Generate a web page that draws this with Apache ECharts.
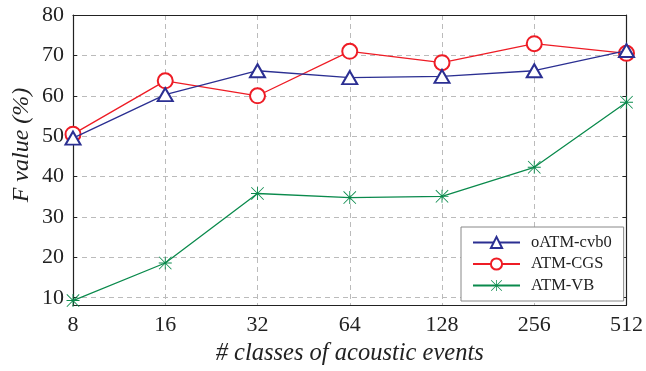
<!DOCTYPE html>
<html><head><meta charset="utf-8">
<script src="https://cdn.jsdelivr.net/npm/echarts@6/dist/echarts.min.js"></script>
<style>html,body{margin:0;padding:0;background:#fff}#c{width:646px;height:371px}</style>
</head><body><div id="c"></div>
<script>
var categories = ['8','16','32','64','128','256','512'];
var oATM_cvb0 = [49.5, 60.3, 66.2, 64.5, 64.8, 66.2, 71.2];
var ATM_CGS = [50.5, 63.7, 60.0, 71.0, 68.2, 72.9, 70.5];
var ATM_VB = [9.3, 18.6, 35.8, 34.8, 35.1, 42.3, 58.4];
var yTicks = [10, 20, 30, 40, 50, 60, 70, 80];

var FONT = 'Liberation Serif';
var star = 'path://M11.2,0L12.8,0L12.8,24L11.2,24Z M0,11.2L24,11.2L24,12.8L0,12.8Z M0,1.1L1.1,0L24,22.9L22.9,24Z M22.9,0L24,1.1L1.1,24L0,22.9Z';
var axisCol = '#222';
var gridLine = {show: true, lineStyle: {color: '#bbb', type: [5, 4], width: 1}};

var chart = echarts.init(document.getElementById('c'));
chart.setOption({
  animation: false,
  backgroundColor: '#fff',
  grid: {left: 73, right: 16, top: 15, bottom: 62},
  xAxis: [{
    type: 'category', data: categories, boundaryGap: false,
    axisLine: {lineStyle: {color: axisCol, width: 1.2}},
    axisTick: {show: false},
    axisLabel: {color: axisCol, fontFamily: FONT, fontSize: 22, margin: 9},
    splitLine: gridLine,
    name: '# classes of acoustic events', nameLocation: 'middle', nameGap: 36,
    nameTextStyle: {color: axisCol, fontFamily: FONT, fontStyle: 'italic', fontSize: 24.5}
  }, {
    type: 'category', data: categories, boundaryGap: false, position: 'top',
    axisLine: {show: true, lineStyle: {color: axisCol, width: 1.2}},
    axisTick: {show: false}, axisLabel: {show: false}, splitLine: {show: false}
  }],
  yAxis: [{
    type: 'value', min: 8.2, max: 80,
    axisLine: {show: true, lineStyle: {color: axisCol, width: 1.2}},
    axisTick: {show: true, inside: true, length: 4, customValues: yTicks, lineStyle: {color: axisCol}},
    axisLabel: {color: axisCol, fontFamily: FONT, fontSize: 22, margin: 9, customValues: yTicks},
    splitLine: gridLine
  }, {
    type: 'value', min: 8.2, max: 80, position: 'right',
    axisLine: {show: true, lineStyle: {color: axisCol, width: 1.2}},
    axisTick: {show: true, inside: true, length: 4, customValues: yTicks, lineStyle: {color: axisCol}},
    axisLabel: {show: false, customValues: yTicks}, splitLine: {show: false}
  }],
  legend: {
    orient: 'vertical', left: 461, top: 227,
    padding: [7, 12, 7, 11], itemGap: 4.5, itemWidth: 47, itemHeight: 14,
    backgroundColor: '#fff', borderColor: '#888', borderWidth: 1,
    lineStyle: {width: 2},
    textStyle: {color: axisCol, fontFamily: FONT, fontSize: 16.5, padding: [0, 0, 0, 6]},
    data: ['oATM-cvb0', 'ATM-CGS', 'ATM-VB']
  },
  graphic: [{
    type: 'text', x: 22, y: 145, rotation: Math.PI / 2,
    style: {text: 'F value (%)', fill: axisCol, font: 'italic 24px "Liberation Serif"', align: 'center', verticalAlign: 'middle'}
  }],
  series: [
    {name: 'oATM-cvb0', type: 'line', data: oATM_cvb0, symbol: 'emptyTriangle', symbolSize: [15, 13], color: '#2b2f92',
     lineStyle: {width: 1.3}, itemStyle: {borderWidth: 1.3}, z: 3},
    {name: 'ATM-CGS', type: 'line', data: ATM_CGS, symbol: 'emptyCircle', symbolSize: 15, color: '#ee1c25',
     lineStyle: {width: 1.3}, itemStyle: {borderWidth: 1.3}, z: 2},
    {name: 'ATM-VB', type: 'line', data: ATM_VB, symbol: star, symbolSize: 13, color: '#0a8a4c',
     lineStyle: {width: 1.3}, z: 4}
  ]
});
</script></body></html>
